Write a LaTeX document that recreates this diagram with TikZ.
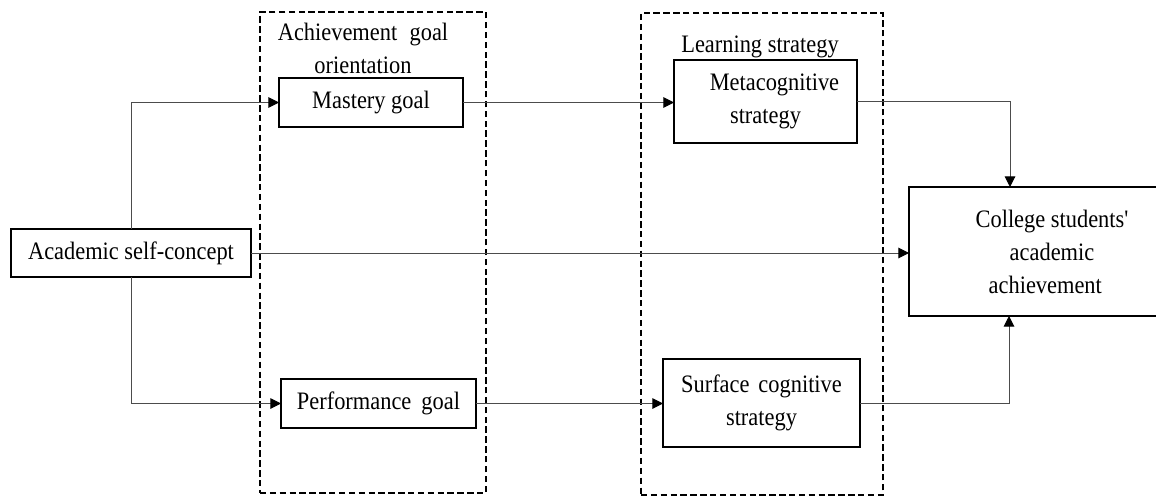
\documentclass[tikz,border=0pt]{standalone}
\usepackage{graphicx}
\usepackage{fontspec}
\setmainfont{Liberation Serif}
\usetikzlibrary{arrows.meta}
\newcommand{\vs}[1]{\scalebox{1}[1.12]{#1}}
\tikzset{
  every node/.style={font=\fontsize{16.8}{24.75}\selectfont},
  box/.style={draw=black, line width=1pt, inner sep=0pt, outer sep=0pt, align=center},
  group/.style={draw=black, line width=1pt, dash pattern=on 4.8pt off 2.6pt, inner sep=0pt, outer sep=0pt},
  label/.style={inner sep=0pt, align=center},
  conn/.style={draw=black!70, line width=0.75pt, -{Triangle[length=8pt,width=8pt,fill=black,color=black]}}
}
\begin{document}
\begin{tikzpicture}[x=0.75pt, y=-0.75pt]
\useasboundingbox (0,0) rectangle (1156,496);
\clip (0,0) rectangle (1156,496);
% groups
\node[group, minimum width=169.5pt, minimum height=360.75pt] (g1) at (373,252.5) {};
\node[group, minimum width=181.5pt, minimum height=361.5pt] (g2) at (762,254) {};
\node[label] (l1) at (363,48) {\vs{Achievement\hspace{0.55em}goal}\\\vs{orientation}};
\node[label] (l2) at (760,47) {\vs{Learning strategy}};
% boxes
\node[box, minimum width=180pt, minimum height=36pt] (asc) at (131,253) {\vs{Academic self-concept}};
\node[box, minimum width=138pt, minimum height=36.75pt] (mg) at (371,102.5) {\vs{Mastery goal}};
\node[box, minimum width=146.25pt, minimum height=36.75pt] (pg) at (378.5,403.5) {\vs{Performance\hspace{0.45em}goal}};
\node[box, minimum width=137.25pt, minimum height=62.25pt] (ms) at (765.5,101.5) {\vs{\hspace{0.8em}Metacognitive}\\\vs{strategy}};
\node[box, minimum width=147.75pt, minimum height=66pt] (sc) at (761.5,403) {\vs{Surface\hspace{0.4em}cognitive}\\\vs{strategy}};
\node[box, minimum width=214.5pt, minimum height=96.75pt] (ca) at (1052,251.5) {\vs{College students\textquotesingle}\\\vs{academic}\\\vs{achievement\hspace{0.6em}}};
\coordinate (cin1) at (1010,187);
\coordinate (cin2) at (1009,316);
% connectors
\draw[conn] (asc.north) |- (mg.west);
\draw[conn] (asc.south) |- (pg.west);
\draw[conn] (asc.east) -- (asc.east -| ca.west);
\draw[conn] (mg.east) -- (mg.east -| ms.west);
\draw[conn] (pg.east) -- (pg.east -| sc.west);
\draw[conn] (ms.east) -| (cin1);
\draw[conn] (sc.east) -| (cin2);
\end{tikzpicture}
\end{document}
